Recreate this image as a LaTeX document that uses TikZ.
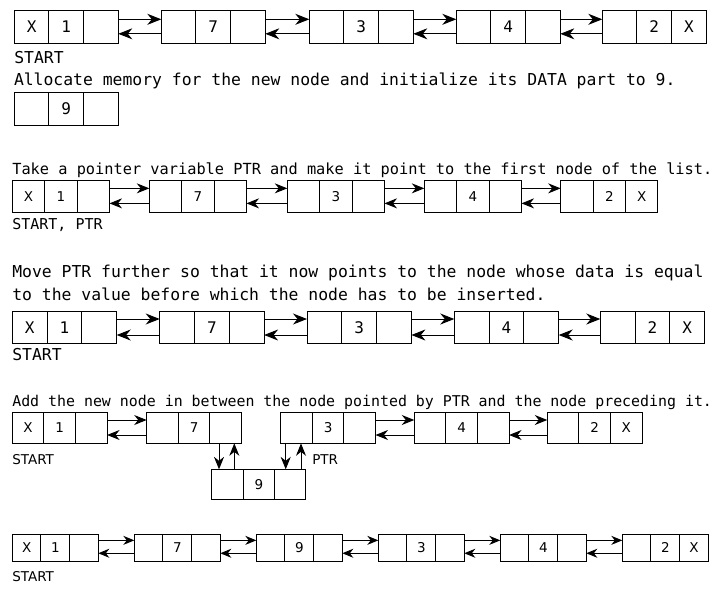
\documentclass[tikz,border=0pt]{standalone}
\usepackage{fontspec}
\setmainfont{DejaVu Sans}
\newfontfamily\monof{DejaVu Sans Mono}
\newfontfamily\sansf{DejaVu Sans}
\usetikzlibrary{arrows.meta}
\newcommand{\fRa}{\monof\fontsize{16}{19}\selectfont}
\newcommand{\fTa}{\monof\fontsize{16.4}{19}\selectfont}
\newcommand{\fTb}{\monof\fontsize{15.3}{18}\selectfont}
\newcommand{\fTc}{\monof\fontsize{15}{18}\selectfont}
\newcommand{\fTd}{\monof\fontsize{14.9}{18}\selectfont}
\newcommand{\fSa}{\sansf\fontsize{13.5}{16}\selectfont}
\newcommand{\fSb}{\sansf\fontsize{13.5}{16}\selectfont}
\newcommand{\fSc}{\sansf\fontsize{13.5}{16}\selectfont}
\newcommand{\fSd}{\sansf\fontsize{13.5}{16}\selectfont}
\newcommand{\dlnode}[9]{%
  \node[cell, minimum width=#4pt, minimum height=#5pt, font=#6] (#1a) at (#2,#3) {#7};
  \node[cell, minimum width=#4pt, minimum height=#5pt, font=#6] (#1b) at (#1a.east) {#8};
  \node[cell, minimum width=#4pt, minimum height=#5pt, font=#6] (#1c) at (#1b.east) {#9};
}
\tikzset{
  cell/.style={draw, line width=1pt, inner sep=0pt, outer sep=0pt, anchor=west},
  lbl/.style={inner sep=0pt, outer sep=0pt, anchor=base west},
  lnkA/.style={line width=1pt, -{Stealth[length=14pt,width=11pt,inset=4.5pt]}},
  lnkB/.style={line width=1pt, -{Stealth[length=12.5pt,width=10pt,inset=4pt]}},
  lnkE/.style={line width=1pt, -{Stealth[length=11pt,width=9pt,inset=3.5pt]}},
}
\begin{document}
\begin{tikzpicture}[x=1pt,y=-1pt]
\useasboundingbox (0,0) rectangle (720,598);
% ---------- Row 1
\dlnode{ra1}{14.3}{26.8}{34.67}{33}{\fRa}{X}{1}{}
\dlnode{ra2}{161.3}{26.8}{34.67}{33}{\fRa}{}{7}{}
\dlnode{ra3}{309.3}{26.8}{34.67}{33}{\fRa}{}{3}{}
\dlnode{ra4}{456.3}{26.8}{34.67}{33}{\fRa}{}{4}{}
\dlnode{ra5}{602.3}{26.8}{34.67}{33}{\fRa}{}{2}{X}
\foreach \p/\q in {ra1/ra2,ra2/ra3,ra3/ra4,ra4/ra5}{
  \draw[lnkA] ([yshift=7.5pt]\p c.east) -- ([yshift=7.5pt]\q a.west);
  \draw[lnkA] ([yshift=-7pt]\q a.west) -- ([yshift=-7pt]\p c.east);
}
\node[lbl, font=\fTa] (ta1) at (14.3,63.3) {START};
\node[lbl, font=\fTa] (ta2) at (14,85) {Allocate memory for the new node and initialize its DATA part to 9.};
% ---------- Row 2
\dlnode{rb1}{14.3}{109}{34.67}{32.7}{\fRa}{}{9}{}
% ---------- Row 3
\node[lbl, font=\fTb] (tc1) at (12.3,174) {Take a pointer variable PTR and make it point to the first node of the list.};
\dlnode{rc1}{12.3}{196.35}{32.4}{31.3}{\fSa}{X}{1}{}
\dlnode{rc2}{149.3}{196.35}{32.4}{31.3}{\fSa}{}{7}{}
\dlnode{rc3}{287.3}{196.35}{32.4}{31.3}{\fSa}{}{3}{}
\dlnode{rc4}{424.3}{196.35}{32.4}{31.3}{\fSa}{}{4}{}
\dlnode{rc5}{560.7}{196.35}{32.4}{31.3}{\fSa}{}{2}{X}
\foreach \p/\q in {rc1/rc2,rc2/rc3,rc3/rc4,rc4/rc5}{
  \draw[lnkB] ([yshift=8pt]\p c.east) -- ([yshift=8pt]\q a.west);
  \draw[lnkB] ([yshift=-7pt]\q a.west) -- ([yshift=-7pt]\p c.east);
}
\node[lbl, font=\fTc] (tc2) at (12.3,229) {START, PTR};
% ---------- Row 4
\node[lbl, font=\fTa] (td1) at (12.3,277.7) {Move PTR further so that it now points to the node whose data is equal};
\node[lbl, font=\fTa] (td2) at (12.3,300) {to the value before which the node has to be inserted.};
\dlnode{rd1}{12.3}{327.5}{34.8}{31.6}{\fRa}{X}{1}{}
\dlnode{rd2}{159.7}{327.5}{34.8}{31.6}{\fRa}{}{7}{}
\dlnode{rd3}{307}{327.5}{34.8}{31.6}{\fRa}{}{3}{}
\dlnode{rd4}{454.3}{327.5}{34.8}{31.6}{\fRa}{}{4}{}
\dlnode{rd5}{600.3}{327.5}{34.8}{31.6}{\fRa}{}{2}{X}
\foreach \p/\q in {rd1/rd2,rd2/rd3,rd3/rd4,rd4/rd5}{
  \draw[lnkA] ([yshift=8.5pt]\p c.east) -- ([yshift=8.5pt]\q a.west);
  \draw[lnkA] ([yshift=-7.5pt]\q a.west) -- ([yshift=-7.5pt]\p c.east);
}
\node[lbl, font=\fTa] (td3) at (12.3,360) {START};
% ---------- Row 5
\node[lbl, font=\fTd] (te1) at (12.3,406) {Add the new node in between the node pointed by PTR and the node preceding it.};
\dlnode{re1}{12.3}{427.8}{31.6}{31}{\fSa}{X}{1}{}
\dlnode{re2}{146.7}{427.8}{31.6}{31}{\fSa}{}{7}{}
\dlnode{re3}{280.7}{427.8}{31.6}{31}{\fSa}{}{3}{}
\dlnode{re4}{414.3}{427.8}{31.6}{31}{\fSa}{}{4}{}
\dlnode{re5}{547.3}{427.8}{31.6}{31}{\fSa}{}{2}{X}
\dlnode{rew}{211.7}{484.2}{31.4}{29.7}{\fSa}{}{9}{}
\foreach \p/\q in {re1/re2,re3/re4,re4/re5}{
  \draw[lnkB] ([yshift=7.8pt]\p c.east) -- ([yshift=7.8pt]\q a.west);
  \draw[lnkB] ([yshift=-7.2pt]\q a.west) -- ([yshift=-7.2pt]\p c.east);
}
\draw[lnkB] ([xshift=-6.7pt]re2c.south) -- ([xshift=-6.7pt]re2c.south |- rewa.north);
\draw[lnkB] ([xshift=8.6pt]re2c.south |- rewa.north) -- ([xshift=8.6pt]re2c.south);
\draw[lnkB] ([xshift=-10.8pt]re3a.south) -- ([xshift=-10.8pt]re3a.south |- rewc.north);
\draw[lnkB] ([xshift=4.5pt]re3a.south |- rewc.north) -- ([xshift=4.5pt]re3a.south);
\node[lbl, font=\fSb] (te2) at (12.3,464.3) {START};
\node[lbl, font=\fSb] (te3) at (312.3,464.3) {PTR};
% ---------- Row 6
\dlnode{rf1}{12.3}{547.65}{28.67}{27.3}{\fSc}{X}{1}{}
\dlnode{rf2}{134.3}{547.65}{28.67}{27.3}{\fSc}{}{7}{}
\dlnode{rf3}{256.3}{547.65}{28.67}{27.3}{\fSc}{}{9}{}
\dlnode{rf4}{378.3}{547.65}{28.67}{27.3}{\fSc}{}{3}{}
\dlnode{rf5}{500.3}{547.65}{28.67}{27.3}{\fSc}{}{4}{}
\dlnode{rf6}{622.3}{547.65}{28.67}{27.3}{\fSc}{}{2}{X}
\foreach \p/\q in {rf1/rf2,rf2/rf3,rf3/rf4,rf4/rf5,rf5/rf6}{
  \draw[lnkE] ([yshift=7.3pt]\p c.east) -- ([yshift=7.3pt]\q a.west);
  \draw[lnkE] ([yshift=-5.6pt]\q a.west) -- ([yshift=-5.6pt]\p c.east);
}
\node[lbl, font=\fSd] (tf1) at (12.3,581.7) {START};
\end{tikzpicture}
\end{document}
